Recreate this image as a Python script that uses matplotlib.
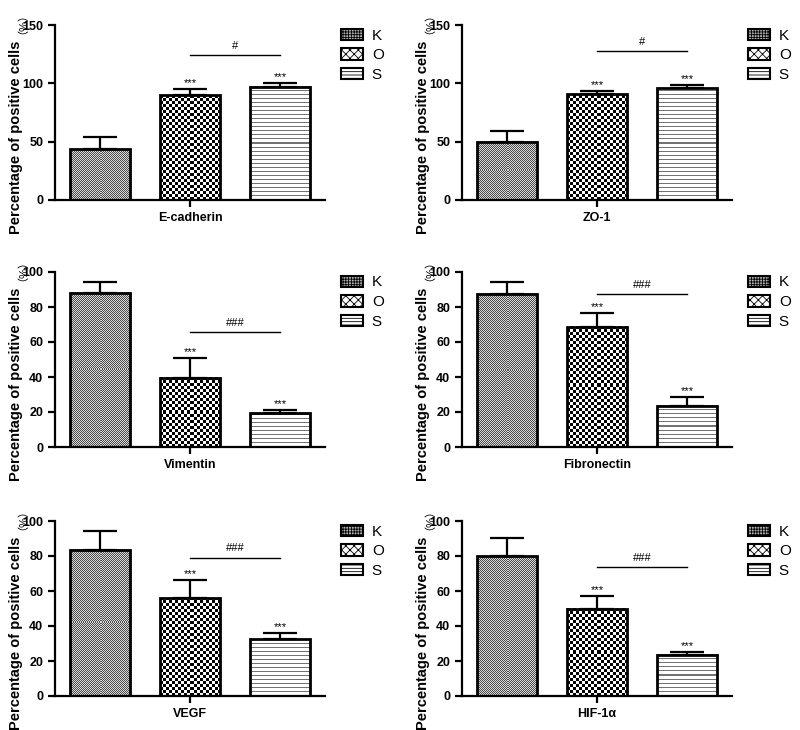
import numpy as np
import matplotlib
matplotlib.use('Agg')
import matplotlib.pyplot as plt
from matplotlib.patches import Patch

plt.rcParams['font.family'] = ['Liberation Sans', 'Noto Sans CJK SC', 'DejaVu Sans']
plt.rcParams['hatch.linewidth'] = 0.6

markers = ['E-cadherin', 'ZO-1', 'Vimentin', 'Fibronectin', 'VEGF', 'HIF-1α']
groups = ['K', 'O', 'S']
mean_K = [43.4, 50.0, 88.2, 87.7, 83.7, 79.9]
mean_O = [90.0, 90.5, 39.6, 68.7, 55.9, 49.9]
mean_S = [97.1, 96.3, 19.2, 23.7, 32.3, 23.7]
sem_K = [10.9, 8.9, 5.9, 6.6, 10.4, 10.6]
sem_O = [5.1, 2.9, 11.1, 8.0, 10.6, 7.4]
sem_S = [2.9, 2.0, 1.8, 4.8, 3.6, 1.7]
y_max = [150, 150, 100, 100, 100, 100]
y_step = [50, 50, 20, 20, 20, 20]
sig_vs_K = ['', '***', '***']
bracket_y = [124.3, 127.8, 65.5, 87.3, 79.1, 73.6]
bracket_txt = ['#', '#', '###', '###', '###', '###']

fig = plt.figure(figsize=(8, 7.3), dpi=100)

col_x = [55, 462]
row_zero = [200, 447, 696]
ax_w, ax_h = 270, 175


def pattern(kind, nr, nc):
    i, j = np.mgrid[0:nr, 0:nc]
    if kind == 'K':
        return np.where((i + j) % 2 == 0, 0.3, 0.85)
    if kind == 'O':
        return np.where((i // 3 + j // 3) % 2 == 0, 0.0, 1.0)
    return np.where(i % 4 == 0, 0.45, 1.0)


def fill_bar(ax, rect, kind):
    # pixel pattern inside each bar (checker / fine checker / lines)
    x0, y0 = rect.get_x(), rect.get_y()
    x1, y1 = x0 + rect.get_width(), y0 + rect.get_height()
    p0 = ax.transData.transform((x0, y0))
    p1 = ax.transData.transform((x1, y1))
    nc = max(int(round(p1[0] - p0[0])), 1)
    nr = max(int(round(p1[1] - p0[1])), 1)
    ax.imshow(pattern(kind, nr, nc), cmap='gray', vmin=0, vmax=1,
              extent=(x0, x1, y0, y1), origin='lower', interpolation='nearest',
              aspect='auto', zorder=1)


for k, name in enumerate(markers):
    r, c = divmod(k, 2)
    left = col_x[c] / 800
    bottom = 1 - row_zero[r] / 730
    ax = fig.add_axes([left, bottom, ax_w / 800, ax_h / 730])
    ax.set_xlim(-0.5, 2.5)
    ax.set_ylim(0, y_max[k])

    vals = [mean_K[k], mean_O[k], mean_S[k]]
    errs = [sem_K[k], sem_O[k], sem_S[k]]
    xs = np.arange(3)
    bars = ax.bar(xs, vals, width=0.667, facecolor='none', edgecolor='black',
                  linewidth=2, zorder=2)
    for b, g in zip(bars, groups):
        fill_bar(ax, b, g)
    ax.errorbar(xs, vals, yerr=[np.zeros(3), errs], fmt='none', ecolor='black',
                elinewidth=1.6, capsize=12, capthick=1.6, zorder=3)
    ax.set_xlim(-0.5, 2.5)
    ax.set_ylim(0, y_max[k])

    for x, v, e, s in zip(xs, vals, errs, sig_vs_K):
        if s:
            ax.annotate(s, (x, v + e), xytext=(0, 2), textcoords='offset points',
                        ha='center', va='baseline', fontsize=8)
    ax.plot([1, 2], [bracket_y[k]] * 2, color='black', lw=1, zorder=3)
    ax.annotate(bracket_txt[k], (1.5, bracket_y[k]), xytext=(0, 4.5),
                textcoords='offset points', ha='center', va='baseline', fontsize=8)

    for sp in ['top', 'right']:
        ax.spines[sp].set_visible(False)
    for sp in ['left', 'bottom']:
        ax.spines[sp].set_linewidth(1.6)
    ax.set_yticks(np.arange(0, y_max[k] + 1, y_step[k]))
    ax.set_xticks([1])
    ax.set_xticklabels([name], fontsize=9.5, fontweight='bold')
    ax.tick_params(axis='both', direction='out', length=5, width=1.6, labelsize=9)
    for t in ax.get_yticklabels():
        t.set_fontweight('bold')

    ax.text(-0.145, 0.36, 'Percentage of positive cells', rotation=90,
            ha='center', va='center', transform=ax.transAxes,
            fontsize=10.5, fontweight='bold')
    ax.text(-0.142, 1.04, '（%）', rotation=90, ha='center', va='center',
            transform=ax.transAxes, fontsize=8)

    handles = [
        Patch(facecolor='#b0b0b0', edgecolor='black', hatch='++++++', lw=1.5),
        Patch(facecolor='white', edgecolor='black', hatch='xxxx', lw=1.5),
        Patch(facecolor='white', edgecolor='black', hatch='-----', lw=1.5),
    ]
    ax.legend(handles, groups, loc='upper left', bbox_to_anchor=(1.06, 0.98),
              frameon=False, fontsize=11, handlelength=1.45, handleheight=0.75,
              handletextpad=0.55, labelspacing=0.38, borderpad=0, borderaxespad=0)

fig.savefig('out.png', dpi=100)
